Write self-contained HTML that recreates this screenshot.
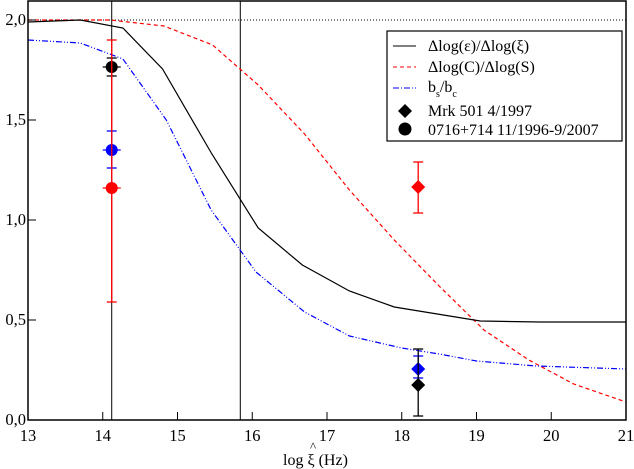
<!DOCTYPE html>
<html><head><meta charset="utf-8"><style>
body{margin:0;background:#fff}
svg{display:block;font-family:"Liberation Serif",serif}
</style></head><body>
<svg id="c" width="634" height="469">
<rect x="0" y="0" width="634" height="469" fill="#fff"/>
<g id="plot"></g>
</svg>
<script>
const blackX=[13,13.7,14.27,14.8,15.46,16.08,16.67,17.3,17.9,19.05,19.85,21];
const blackY=[1.99,2.0,1.96,1.755,1.33,0.96,0.775,0.645,0.565,0.495,0.49,0.49];
const redX=[13,13.7,14.1,14.82,15.47,16.08,16.7,17.3,17.9,18.5,19.1,19.7,19.95,20.3,21];
const redY=[2.0,2.0,2.0,1.97,1.875,1.675,1.43,1.15,0.9,0.67,0.45,0.3,0.25,0.18,0.09];
const blueX=[13,13.7,14.27,14.85,15.45,16.05,16.7,17.3,18,18.5,19,19.8,21];
const blueY=[1.9,1.885,1.805,1.5,1.05,0.74,0.54,0.42,0.36,0.33,0.295,0.27,0.255];
const circleX=[14.12,14.12,14.12];
const circleY=[1.765,1.35,1.16];
const circleLo=[1.72,1.26,0.59];
const circleHi=[1.81,1.445,1.9];
const circleColors=["#000","#00f","#f00"];
const diamondX=[18.22,18.22,18.22];
const diamondY=[1.165,0.255,0.175];
const diamondLo=[1.035,0.21,0.02];
const diamondHi=[1.29,0.32,0.355];
const diamondColors=["#f00","#00f","#000"];
const xTicks=[13,14,15,16,17,18,19,20,21];
const yTicks=[0,0.5,1.0,1.5,2.0];
const vLines=[14.12,15.84];

const NS="http://www.w3.org/2000/svg";
const g=document.getElementById('plot');
const L=28,R=626,T=1,B=420;
const X=v=>L+(v-13)/8*(R-L);
const Y=v=>B-v*200;
function el(t,a,p){const e=document.createElementNS(NS,t);for(const k in a)e.setAttribute(k,a[k]);(p||g).appendChild(e);return e;}

let e=el('line',{x1:L,x2:R,y1:Y(2),y2:Y(2),stroke:'#000','stroke-width':1,'stroke-dasharray':'1,2'});


vLines.forEach((v,i)=>{const l=el('line',{x1:X(v),x2:X(v),y1:T,y2:B,stroke:'#000','stroke-width':1});

});

function poly(xs,ys,col,dash,name){const p=el('polyline',{points:xs.map((x,i)=>X(x)+','+Y(ys[i])).join(' '),fill:'none',stroke:col,'stroke-width':1.2,'stroke-dasharray':dash});

}
poly(redX,redY,'#f00','4,3','red-dashed-curve');
poly(blueX,blueY,'#00f','6,2,1,2,1,2','blue-dashdot-curve');
poly(blackX,blackY,'#000','','black-solid-curve');

function errbar(x,lo,hi,col){el('line',{x1:X(x),x2:X(x),y1:Y(lo),y2:Y(hi),stroke:col,'stroke-width':1.3});
[lo,hi].forEach(v=>el('line',{x1:X(x)-5,x2:X(x)+5,y1:Y(v),y2:Y(v),stroke:col,'stroke-width':1.3}));}
circleX.forEach((x,i)=>{errbar(x,circleLo[i],circleHi[i],circleColors[i]);
el('line',{x1:X(x)-9,x2:X(x)+9,y1:Y(circleY[i]),y2:Y(circleY[i]),stroke:circleColors[i],'stroke-width':1.3});
const c=el('circle',{cx:X(x),cy:Y(circleY[i]),r:6,fill:circleColors[i]});

});
diamondX.forEach((x,i)=>{errbar(x,diamondLo[i],diamondHi[i],diamondColors[i]);
const cx=X(x),cy=Y(diamondY[i]);
const d=el('polygon',{points:`${cx},${cy-7} ${cx+7},${cy} ${cx},${cy+7} ${cx-7},${cy}`,fill:diamondColors[i]});

});

const f=el('rect',{x:L,y:T,width:R-L,height:B-T,fill:'none',stroke:'#000','stroke-width':1.5});


xTicks.forEach(v=>{el('line',{x1:X(v),x2:X(v),y1:B,y2:B-8,stroke:'#000'});
const t=el('text',{x:X(v),y:B+21,'text-anchor':'middle','font-size':16.5});t.textContent=v;

});
yTicks.forEach(v=>{el('line',{x1:L,x2:L+8,y1:Y(v),y2:Y(v),stroke:'#000'});
const t=el('text',{x:L-2,y:Y(v)+5,'text-anchor':'end','font-size':16.5});t.textContent=v.toFixed(1).replace('.',',');

});
</script>
<svg width="634" height="469" style="position:absolute;left:0;top:0">
<text x="283" y="465" font-size="16">log <tspan>ξ</tspan> (Hz)</text>
<text x="310" y="451" font-size="13">^</text>
<g>
<rect x="387" y="31" width="235" height="110" fill="#fff" stroke="#000" stroke-width="1.2"/>
<line x1="393" y1="46" x2="416" y2="46" stroke="#000"/>
<text x="428" y="51" font-size="16">Δlog(ε)/Δlog(ξ)</text>
<line x1="393" y1="67" x2="416" y2="67" stroke="#f00" stroke-dasharray="4,3"/>
<text x="428" y="72" font-size="16">Δlog(C)/Δlog(S)</text>
<line x1="393" y1="88" x2="416" y2="88" stroke="#00f" stroke-dasharray="6,2,1,2"/>
<text x="428" y="92" font-size="16">b<tspan font-size="10" dy="5">s</tspan><tspan dy="-5">/b</tspan><tspan font-size="10" dy="5">c</tspan></text>
<polygon points="405,104 412,111 405,118 398,111" fill="#000"/>
<text x="428" y="116" font-size="16">Mrk 501 4/1997</text>
<circle cx="405" cy="129" r="6.5" fill="#000"/>
<text x="428" y="135" font-size="16">0716+714 11/1996-9/2007</text>
</g>
</svg>
</body></html>
